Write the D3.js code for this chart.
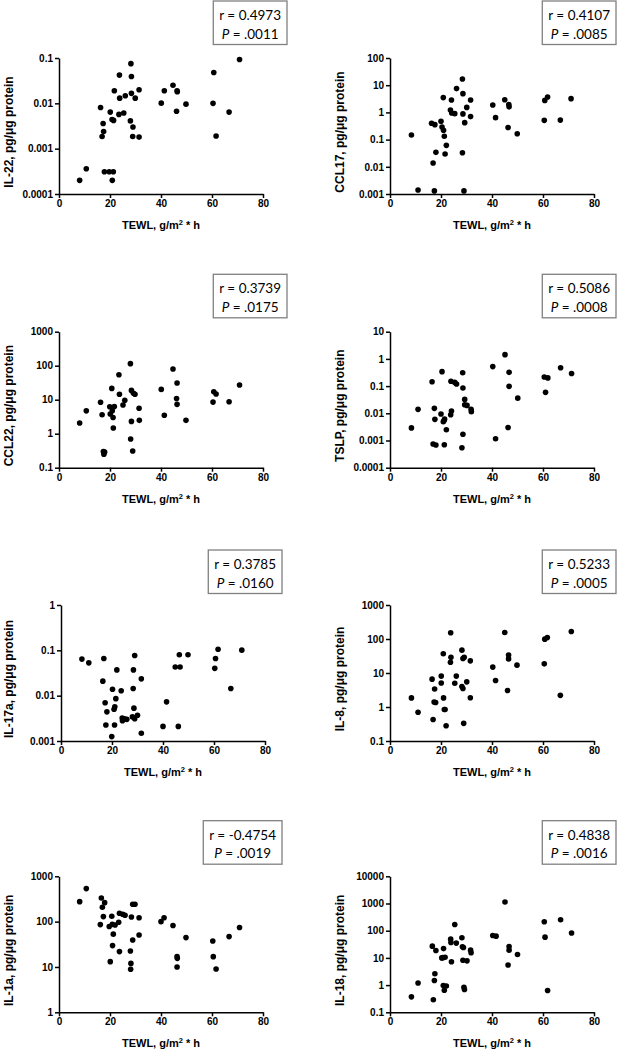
<!DOCTYPE html>
<html>
<head>
<meta charset="utf-8">
<script src="https://cdn.jsdelivr.net/npm/d3@7/dist/d3.min.js"></script>
<style>
  body { margin: 0; background: #fff; }
  svg { display: block; }
  .axis path, .axis line { stroke: #000; stroke-width: 1.5px; }
  .axis text { font-family: "Liberation Sans", Arial, sans-serif; font-weight: bold; font-size: 10px; fill: #000; }
  .title { font-family: "Liberation Sans", Arial, sans-serif; font-weight: bold; font-size: 11px; fill: #000; }
  .ytitle { font-size: 12px; }
  .stat { font-family: Lato, "Open Sans", sans-serif; font-size: 13.5px; fill: #000; }
</style>
</head>
<body>
<svg></svg>
<script>

var w = 620;
var h = 1050;

// panel labels + stats
var names = ["IL-22", "CCL17", "CCL22", "TSLP", "IL-17a", "IL-8", "IL-1a", "IL-18"];
var rValues = ["0.4973", "0.4107", "0.3739", "0.5086", "0.3785", "0.5233", "-0.4754", "0.4838"];
var pValues = [".0011", ".0085", ".0175", ".0008", ".0160", ".0005", ".0019", ".0016"];
// y axis decades (log10 of lowest / highest tick)
var yDecades = [[-4, -1], [-3, 2], [-1, 3], [-4, 1], [-3, 0], [-1, 3], [0, 3], [-1, 4]];
var xTicks = [0, 20, 40, 60, 80];

// [TEWL, level]
var il22 = [[8.1,0.0002],[10.7,0.00036],[16.3,0.0081],[16.9,0.00185],[17.3,0.0036],[17.5,0.0024],[17.8,0.00031],
  [19.7,0.00031],[20.1,0.0064],[20.8,0.0044],[20.9,0.0002],[21.3,0.00031],[21.4,0.0042],[21.7,0.019],[23.5,0.0057],
  [23.7,0.042],[23.8,0.013],[25.4,0.0061],[26.0,0.0147],[28.0,0.0041],[28.2,0.075],[28.4,0.0166],[28.4,0.039],
  [28.9,0.00185],[29.0,0.003],[29.9,0.013],[31.4,0.02],[31.4,0.0018],[40.1,0.0101],[41.3,0.019],[44.7,0.025],
  [46.3,0.019],[46.4,0.018],[46.1,0.0067],[49.8,0.0096],[60.7,0.048],[60.4,0.010],[61.6,0.0019],[66.7,0.0064],[70.8,0.093]];

var ccl17 = [[8.4,0.148],[11.0,0.0014],[16.3,0.40],[16.9,0.0138],[17.4,0.0013],[17.6,0.354],[18.0,0.034],[20.0,0.47],
  [20.4,0.29],[20.9,3.5],[21.0,0.22],[21.3,0.132],[21.6,0.0296],[22.1,0.0615],[23.7,1.22],[24.1,2.86],[24.2,0.95],
  [25.4,0.90],[26.1,7.5],[28.4,16.9],[28.4,0.033],[28.6,4.9],[28.6,0.88],[29.0,0.0013],[29.3,0.42],[30.1,1.53],
  [31.6,2.86],[31.6,0.70],[40.3,1.87],[41.4,0.64],[45.0,2.9],[46.3,0.28],[46.6,1.95],[46.7,1.6],[49.9,0.165],
  [60.5,0.51],[60.7,2.76],[61.8,3.7],[66.8,0.52],[71.0,3.2]];

var ccl22 = [[8.1,2.06],[10.7,4.7],[16.3,8.4],[16.9,3.6],[17.4,0.30],[17.6,0.25],[17.9,0.29],[19.9,6.2],[20.1,3.8],
  [20.7,21.5],[20.9,4.7],[21.2,3.0],[21.3,1.47],[21.7,6.3],[23.5,54],[23.7,14.4],[25.1,7.0],[25.8,9.6],[28.0,115],
  [28.1,0.70],[28.4,2.3],[28.4,18.8],[28.9,0.31],[29.2,15.4],[29.8,14.4],[31.4,5.6],[31.5,2.47],[40.1,20.1],
  [41.3,3.5],[44.7,80],[46.3,31],[46.1,10.9],[46.3,7.3],[49.8,2.47],[60.4,8.5],[60.7,17.2],[61.6,14.7],[66.7,8.7],[70.8,27]];

var tslp = [[8.4,0.0029],[11.0,0.014],[16.5,0.145],[16.9,0.00074],[17.4,0.0152],[17.6,0.006],[18.0,0.00068],
  [20.0,0.0094],[20.4,0.34],[20.9,0.0049],[21.2,0.0054],[21.4,0.0061],[21.3,0.0007],[22.1,0.0025],[23.8,0.0089],
  [24.1,0.0121],[23.9,0.15],[25.4,0.137],[26.1,0.12],[28.5,0.31],[28.6,0.085],[28.6,0.0017],[28.2,0.00054],
  [29.3,0.0325],[29.3,0.0207],[30.2,0.0195],[31.8,0.014],[31.9,0.0115],[40.3,0.52],[41.4,0.00116],[45.1,1.43],
  [46.3,0.003],[46.7,0.32],[46.7,0.098],[50.1,0.036],[60.5,0.215],[61.0,0.059],[61.9,0.20],[66.9,0.47],[71.2,0.29]];

var il17a = [[8.2,0.064],[10.9,0.053],[16.4,0.0209],[16.8,0.066],[17.3,0.007],[17.6,0.00226],[18.0,0.0044],
  [19.9,0.00125],[20.2,0.0139],[20.8,0.005],[21.0,0.00226],[21.1,0.0057],[21.5,0.0086],[21.9,0.037],[23.6,0.0128],
  [24.0,0.0032],[24.1,0.0028],[24.9,0.0031],[25.8,0.003],[28.3,0.0144],[28.4,0.037],[28.6,0.0053],[28.9,0.077],
  [28.0,0.0034],[28.9,0.0031],[30.0,0.0037],[31.5,0.0235],[31.5,0.00148],[40.0,0.0021],[41.4,0.0073],[44.8,0.043],
  [46.0,0.0021],[46.4,0.080],[46.7,0.043],[49.8,0.080],[60.3,0.040],[60.6,0.066],[61.6,0.106],[66.6,0.0144],[70.9,0.101]];

var il8 = [[8.4,1.85],[11.0,0.70],[16.5,6.6],[16.9,0.43],[17.3,1.41],[17.5,3.4],[17.9,1.35],[20.1,8.1],[20.1,5.1],
  [20.9,36.7],[21.0,1.85],[21.3,0.84],[21.6,0.84],[22.0,0.28],[23.8,153],[23.9,29],[23.7,20.8],[25.4,5.0],[26.0,8.1],
  [28.2,47],[28.2,4.0],[28.6,3.5],[28.6,26.8],[29.1,29],[28.9,0.33],[30.1,5.5],[31.5,22.8],[31.5,1.87],[40.3,14.9],
  [41.4,6.0],[45.0,156],[46.1,3.05],[46.5,34],[46.5,26],[49.8,17],[60.5,18.6],[60.7,99],[61.7,111],[66.8,2.2],[71.1,167]];

var il1a = [[8.1,276],[10.7,535],[16.2,86],[16.6,333],[17.0,207],[17.4,129],[17.9,262],[19.7,78],[20.1,13.1],
  [20.7,131],[20.9,87],[21.0,29.6],[21.3,53],[22.0,84],[23.4,97],[23.7,153],[23.7,21.8],[25.0,145],[25.9,138],
  [28.0,22.5],[28.1,8.9],[28.2,12],[28.4,127],[28.9,39.4],[28.9,241],[29.8,241],[31.4,122],[31.4,50.8],[40.0,100],
  [41.2,122],[44.7,82],[46.3,16.9],[46.4,15.5],[46.3,10],[49.8,44.4],[60.3,37.5],[60.5,16.9],[61.6,9.0],[66.7,46.7],[70.8,74]];

var il18 = [[8.4,0.37],[11.0,1.2],[16.6,27],[17.0,0.29],[17.4,1.47],[17.6,2.6],[18.0,18.7],[20.3,10],[20.7,10.2],
  [21.0,22],[20.9,0.96],[21.3,0.65],[21.6,10.6],[22.1,0.93],[23.8,49],[23.9,37],[24.1,7.2],[25.4,170],[26.0,35],
  [28.2,55],[28.4,25.6],[28.8,24],[28.6,8.2],[29.0,0.83],[29.2,0.69],[30.2,7.8],[31.6,19.3],[31.8,15.4],[40.3,67],
  [41.6,63],[45.1,1132],[46.3,5.5],[46.7,26],[46.7,19.3],[50.0,13.3],[60.5,213],[60.8,58],[61.8,0.63],[66.9,253],[71.2,82]];

var series = [il22, ccl17, ccl22, tslp, il17a, il8, il1a, il18];

// layout
var colX = [59, 390];
var xShift = [0, 0, 0, 0, 2, 0, 0, 0]; // IL-17a panel sits a bit to the right
var rowTop = [58, 331.7, 605, 876.3];
var plotW = 204, plotH = 136;
var boxRight = [287, 616, 287, 616, 282, 616, 282, 616];
var boxTop = [1, 1, 274.3, 274.3, 550, 550, 820.7, 820.7];

var svg = d3.select("svg")
    .attr("width", w)
    .attr("height", h)
    .attr("viewBox", "0 0 " + w + " " + h);

names.forEach(function(name, i) {
    var col = i % 2, row = Math.floor(i / 2);
    var x0 = colX[col] + xShift[i], y0 = rowTop[row];

    var x = d3.scaleLinear().domain([0, 80]).range([x0, x0 + plotW]);
    var dec = yDecades[i];
    var yTicks = d3.range(dec[0], dec[1] + 1).map(function(e) { return +("1e" + e); });
    var y = d3.scaleLog()
        .domain([yTicks[0], yTicks[yTicks.length - 1]])
        .range([y0 + plotH, y0]);

    var g = svg.append("g");

    g.append("g")
        .attr("class", "axis")
        .attr("transform", "translate(0," + (y0 + plotH) + ")")
        .call(d3.axisBottom(x).tickValues(xTicks).tickSize(4).tickSizeOuter(0).tickPadding(2));

    g.append("g")
        .attr("class", "axis")
        .attr("transform", "translate(" + x0 + ",0)")
        .call(d3.axisLeft(y).tickValues(yTicks).tickSize(4).tickSizeOuter(0).tickPadding(2)
            .tickFormat(function(d) { return String(d); }));

    g.selectAll("circle")
        .data(series[i])
        .enter()
        .append("circle")
        .attr("cx", function(d) { return x(d[0]); })
        .attr("cy", function(d) { return y(d[1]); })
        .attr("r", 2.8)
        .attr("fill", "#000");

    // x title
    var xt = g.append("text")
        .attr("class", "title")
        .attr("x", x0 + plotW / 2)
        .attr("y", y0 + plotH + 35)
        .attr("text-anchor", "middle");
    xt.append("tspan").text("TEWL, g/m");
    xt.append("tspan").attr("font-size", "7.5px").attr("dy", -4).text("2");
    xt.append("tspan").attr("dy", 4).text(" * h");

    // y title
    var ty = y0 + plotH / 2 + 6;
    g.append("text")
        .attr("class", "title ytitle")
        .attr("transform", "translate(" + (colX[col] - 46.5) + "," + ty + ") rotate(-90)")
        .attr("text-anchor", "middle")
        .text(name + ", pg/\u03BCg protein");

    // stats box
    var bx = g.append("g");
    var l1 = bx.append("text").attr("class", "stat").attr("text-anchor", "middle")
        .attr("y", boxTop[i] + 19).text("r = " + rValues[i]);
    var l2 = bx.append("text").attr("class", "stat").attr("text-anchor", "middle")
        .attr("y", boxTop[i] + 37.5);
    l2.append("tspan").attr("font-style", "italic").text("P");
    l2.append("tspan").text(" = " + pValues[i]);
    var tw = Math.max(l1.node().getComputedTextLength(), l2.node().getComputedTextLength());
    var bw = tw + 12;
    var cx = boxRight[i] - bw / 2;
    l1.attr("x", cx);
    l2.attr("x", cx);
    bx.insert("rect", ":first-child")
        .attr("x", boxRight[i] - bw)
        .attr("y", boxTop[i])
        .attr("width", bw)
        .attr("height", 43.5)
        .attr("fill", "#fff")
        .attr("stroke", "#808080")
        .attr("stroke-width", 1.3);
});

</script>
</body>
</html>
